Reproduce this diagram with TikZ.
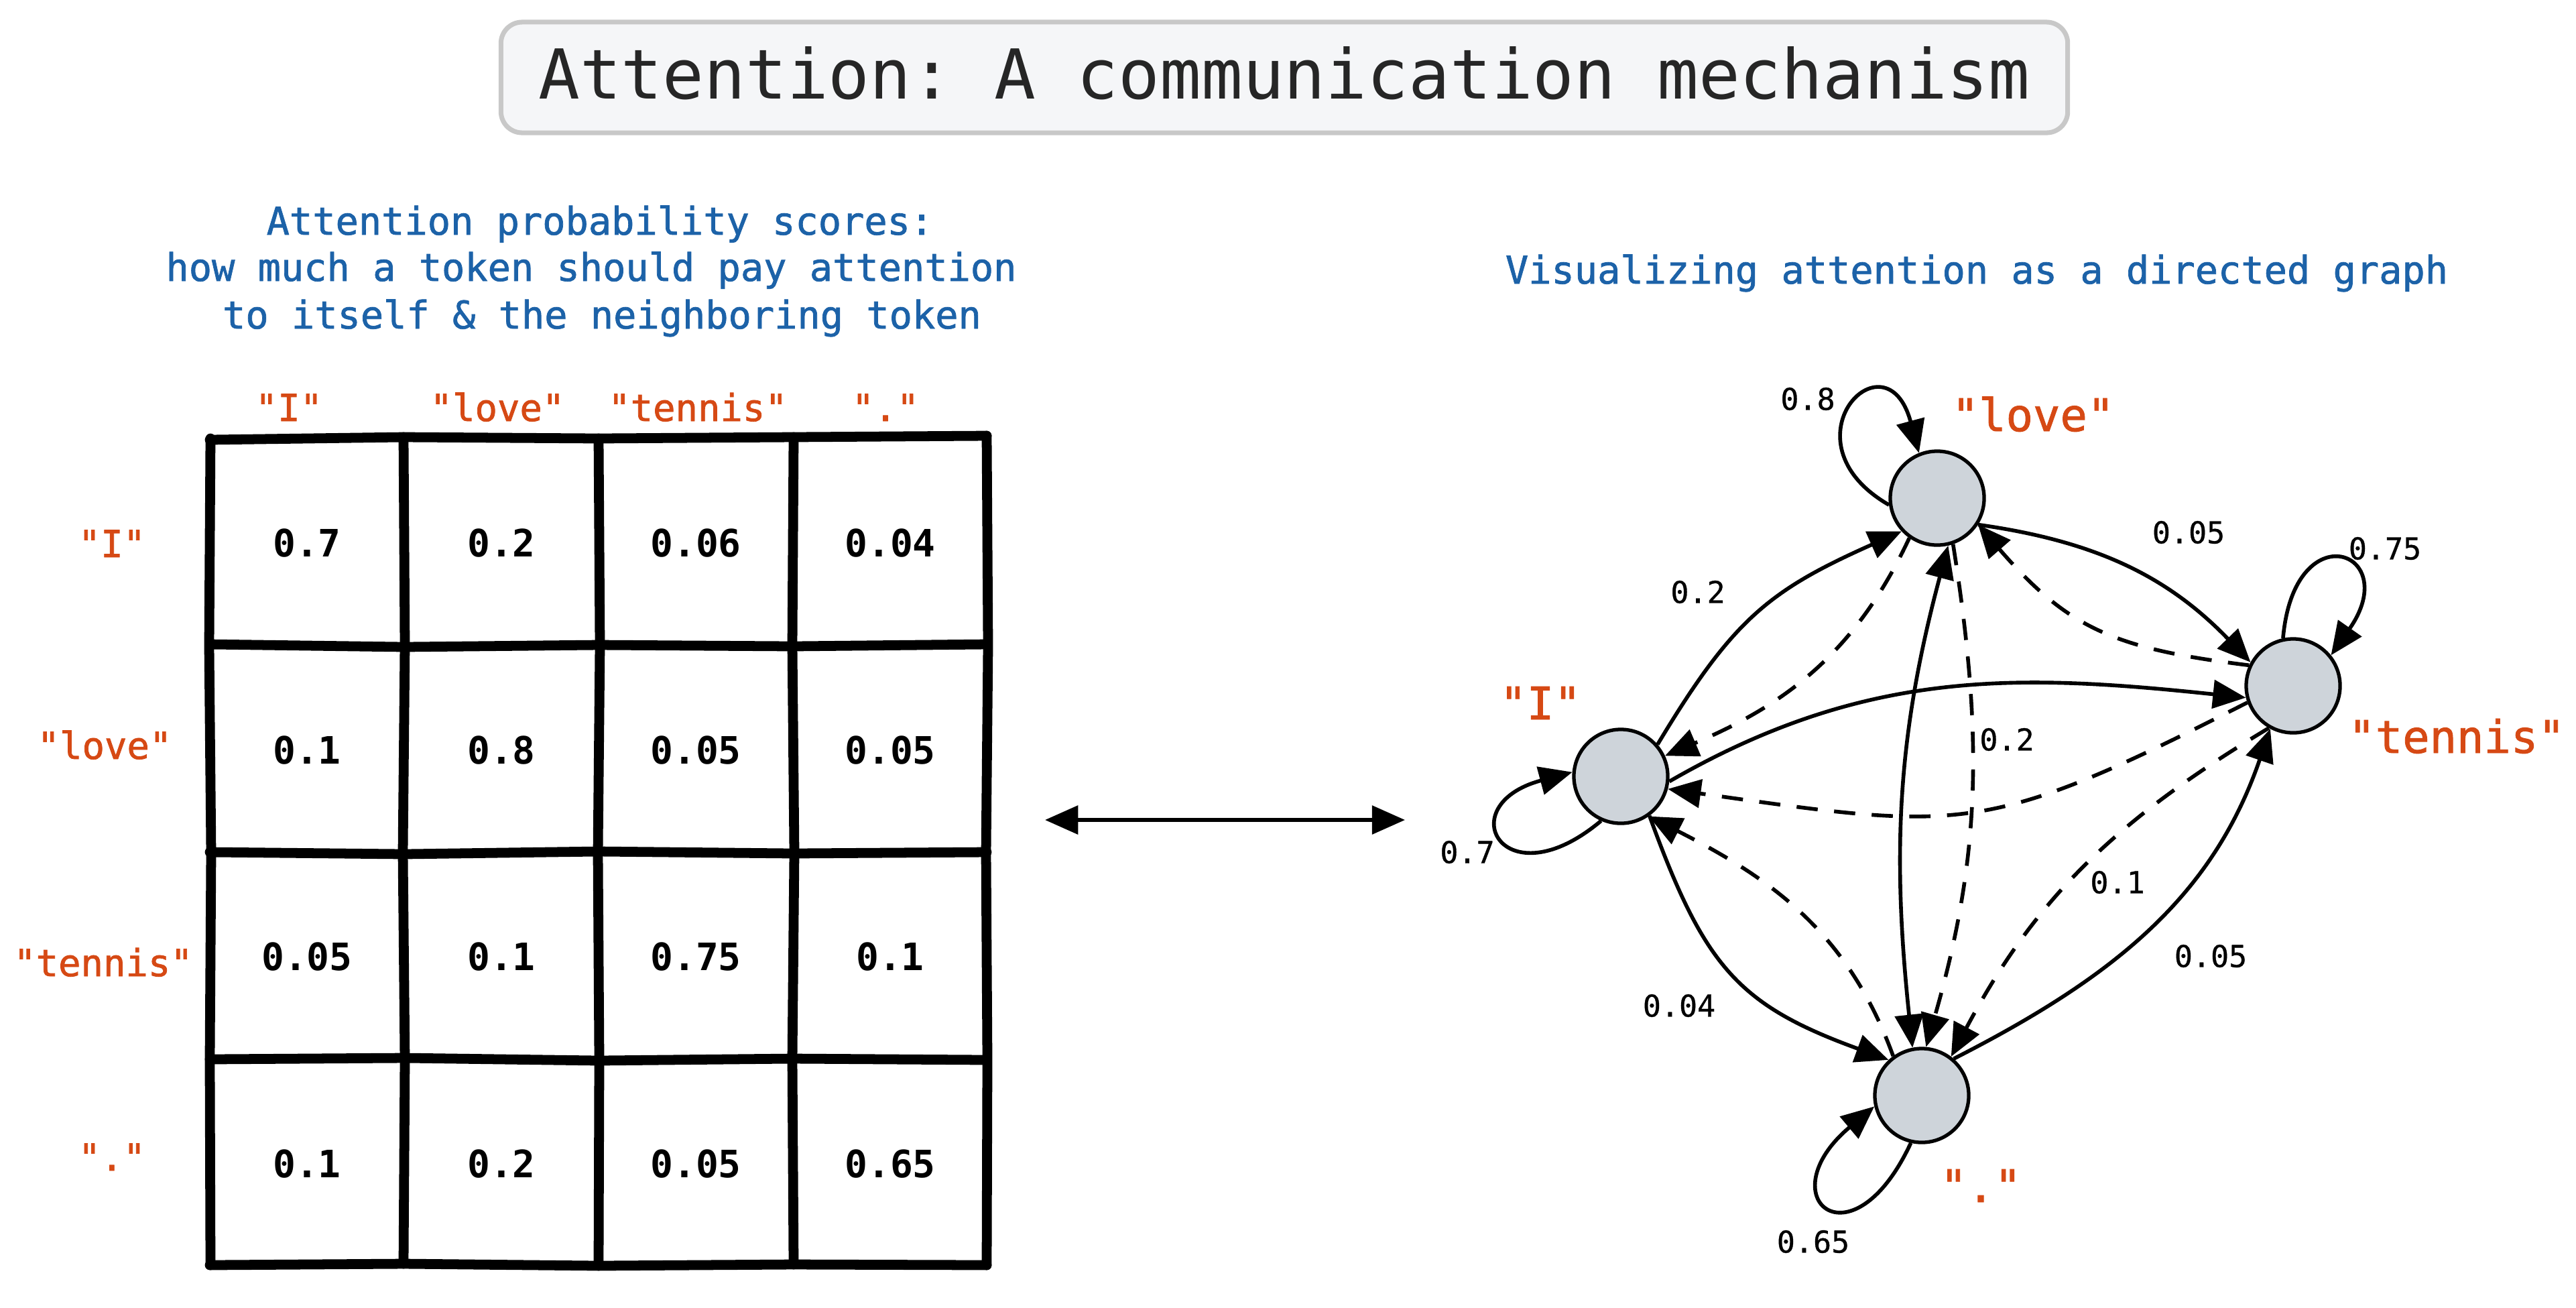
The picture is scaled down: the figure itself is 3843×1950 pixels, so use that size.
\documentclass[tikz,border=0pt]{standalone}
\usepackage{fontspec}
\setmonofont{DejaVu Sans Mono}
\newfontfamily\medmono[FakeBold=1.3]{DejaVu Sans Mono}
\newfontfamily\lblmono[FakeBold=0.7]{DejaVu Sans Mono}
\usetikzlibrary{arrows.meta}
\definecolor{hdrblue}{RGB}{28,98,168}
\definecolor{tokorange}{RGB}{214,73,20}
\definecolor{nodegray}{RGB}{206,212,218}
\definecolor{titlefill}{RGB}{245,246,248}
\definecolor{titleborder}{RGB}{200,200,200}
\definecolor{titletext}{RGB}{38,38,38}
\begin{document}
\begin{tikzpicture}[x=0.01cm,y=0.01cm,
  titletxt/.style={font=\ttfamily\fontsize{29.2}{35}\selectfont, text=titletext, inner sep=0pt, anchor=base},
  bluetxt/.style={font=\medmono\fontsize{16.2}{19.9}\selectfont, text=hdrblue, inner sep=0pt, anchor=base},
  toktxt/.style={font=\medmono\fontsize{15.8}{19}\selectfont, text=tokorange, inner sep=0pt, anchor=base},
  celltxt/.style={font=\ttfamily\bfseries\fontsize{16}{19}\selectfont, inner sep=0pt, anchor=base},
  gridline/.style={line width=4.2pt, line cap=round, line join=round},
  tok/.style={circle, draw, line width=1.5pt, fill=nodegray, minimum size=1.4cm, inner sep=0pt},
  toklabel/.style={font=\medmono\fontsize{19.1}{23}\selectfont, text=tokorange, inner sep=0pt, anchor=base},
  wlabel/.style={font=\lblmono\fontsize{12.8}{15}\selectfont, inner sep=0pt},
  edge/.style={line width=1.6pt, -{Triangle[length=14pt,width=12pt]}},
  dashedge/.style={edge, dash pattern=on 9pt off 7pt},
  twoway/.style={line width=1.6pt, {Triangle[length=14pt,width=12pt]}-{Triangle[length=14pt,width=12pt]}},
]
\fill[white] (0,0) rectangle (3843,-1950);
\useasboundingbox (0,0) rectangle (3843,-1950);

% ---------- title ----------
\node[draw=titleborder, line width=2pt, fill=titlefill, rounded corners=9pt,
      minimum width=23.36cm, minimum height=1.65cm, inner sep=0pt] (titlebox) at (1916,-115.5) {};
\node[titletxt] (title) at (1916,-147) {Attention: A communication mechanism};

% ---------- left header ----------
\node[bluetxt] (hdrA1) at (895,-350) {Attention probability scores:};
\node[bluetxt] (hdrA2) at (882,-419) {how much a token should pay attention};
\node[bluetxt] (hdrA3) at (898,-490) {to itself \& the neighboring token};

% ---------- right header ----------
\node[bluetxt] (hdrB) at (2949,-423) {Visualizing attention as a directed graph};

% ---------- matrix labels ----------
\node[toktxt] (colI) at (431,-628) {"I"};
\node[toktxt] (colLove) at (742,-628) {"love"};
\node[toktxt] (colTennis) at (1041,-628) {"tennis"};
\node[toktxt] (colDot) at (1321,-628) {"."};
\node[toktxt] (rowI) at (167,-831) {"I"};
\node[toktxt] (rowLove) at (156,-1132) {"love"};
\node[toktxt] (rowTennis) at (154,-1456) {"tennis"};
\node[toktxt] (rowDot) at (167,-1746) {"."};

% ---------- grid (hand drawn look) ----------
\draw[gridline] (313,-656) -- (603,-652) -- (893,-654) -- (1183,-652) -- (1472,-650);
\draw[gridline] (313,-961) -- (603,-965) -- (893,-962) -- (1183,-964) -- (1472,-961);
\draw[gridline] (313,-1271) -- (603,-1274) -- (893,-1270) -- (1183,-1273) -- (1472,-1271);
\draw[gridline] (313,-1580) -- (603,-1578) -- (893,-1582) -- (1183,-1579) -- (1472,-1581);
\draw[gridline] (313,-1887) -- (603,-1885) -- (893,-1888) -- (1183,-1886) -- (1472,-1887);
\draw[gridline] (314,-654) -- (312,-963) -- (315,-1272) -- (313,-1580) -- (314,-1887);
\draw[gridline] (602,-652) -- (604,-963) -- (601,-1272) -- (604,-1580) -- (602,-1885);
\draw[gridline] (893,-654) -- (895,-963) -- (892,-1272) -- (894,-1580) -- (893,-1888);
\draw[gridline] (1184,-652) -- (1182,-963) -- (1185,-1272) -- (1182,-1580) -- (1184,-1886);
\draw[gridline] (1472,-650) -- (1474,-963) -- (1471,-1272) -- (1473,-1580) -- (1472,-1887);

% ---------- cell values ----------
\node[celltxt] (c11) at (458,-830) {0.7};
\node[celltxt] (c12) at (748,-830) {0.2};
\node[celltxt] (c13) at (1038,-830) {0.06};
\node[celltxt] (c14) at (1328,-830) {0.04};
\node[celltxt] (c21) at (458,-1139) {0.1};
\node[celltxt] (c22) at (748,-1139) {0.8};
\node[celltxt] (c23) at (1038,-1139) {0.05};
\node[celltxt] (c24) at (1328,-1139) {0.05};
\node[celltxt] (c31) at (458,-1447) {0.05};
\node[celltxt] (c32) at (748,-1447) {0.1};
\node[celltxt] (c33) at (1038,-1447) {0.75};
\node[celltxt] (c34) at (1328,-1447) {0.1};
\node[celltxt] (c41) at (458,-1756) {0.1};
\node[celltxt] (c42) at (748,-1756) {0.2};
\node[celltxt] (c43) at (1038,-1756) {0.05};
\node[celltxt] (c44) at (1328,-1756) {0.65};

% ---------- double arrow ----------
\coordinate (arrL) at (1559,-1223);
\coordinate (arrR) at (2096,-1223);
\draw[twoway] (arrL) -- (arrR);

% ---------- graph nodes ----------
\node[tok] (I) at (2418,-1158) {};
\node[tok] (love) at (2890,-743) {};
\node[tok] (tennis) at (3421,-1023) {};
\node[tok] (dot) at (2867,-1634) {};

\node[toklabel] (lblI) at (2298,-1073) {"I"};
\node[toklabel] (lblLove) at (3033,-643) {"love"};
\node[toklabel] (lblTennis) at (3665,-1123) {"tennis"};
\node[toklabel] (lblDot) at (2955,-1793) {"."};

% ---------- solid edges ----------
\draw[edge] (I.41) to[out=59,in=204,looseness=1.15] (love.223);
\draw[edge] (love.-33) to[out=-8,in=134] (tennis.151);
\draw[edge] (I.-6) to[out=30,in=174] (tennis.194);
\draw[twoway] (dot.101) to[out=96,in=255] (love.283);
\draw[edge] (I.-54) to[out=-70,in=160,looseness=1.2] (dot.133);
\draw[edge] (dot.49) to[out=27,in=251] (tennis.242);

% ---------- dashed edges ----------
\draw[dashedge] (love.235) to[out=245,in=23] (I.25);
\draw[dashedge] (tennis.155) to[out=173,in=-49,looseness=1.15] (love.-33);
\draw[dashedge] (tennis.200) to[out=207,in=-8,looseness=1.3] (I.-15);
\draw[dashedge] (dot.126) to[out=110,in=-27] (I.-55);
\draw[dashedge] (love.-71) to[out=-81,in=74] (dot.85);
\draw[dashedge] (tennis.240) to[out=211,in=62] (dot.53);

% ---------- self loops ----------
\draw[edge] (love.188) to[out=150,in=105,distance=1.9cm] (love.112);
\draw[edge] (tennis.102) to[out=85,in=55,distance=1.9cm] (tennis.39);
\draw[edge] (I.246) to[out=220,in=195,distance=1.9cm] (I.175);
\draw[edge] (dot.257) to[out=245,in=220,distance=2.1cm] (dot.193);

% ---------- edge labels ----------
\node[wlabel] (w08) at (2697,-595) {0.8};
\node[wlabel] (w005a) at (3265,-794) {0.05};
\node[wlabel] (w075) at (3558,-818) {0.75};
\node[wlabel] (w02a) at (2533,-883) {0.2};
\node[wlabel] (w02b) at (2994,-1103) {0.2};
\node[wlabel] (w07) at (2189,-1271) {0.7};
\node[wlabel] (w01) at (3159,-1316) {0.1};
\node[wlabel] (w005b) at (3298,-1426) {0.05};
\node[wlabel] (w004) at (2505,-1500) {0.04};
\node[wlabel] (w065) at (2705,-1852) {0.65};
\end{tikzpicture}
\end{document}
